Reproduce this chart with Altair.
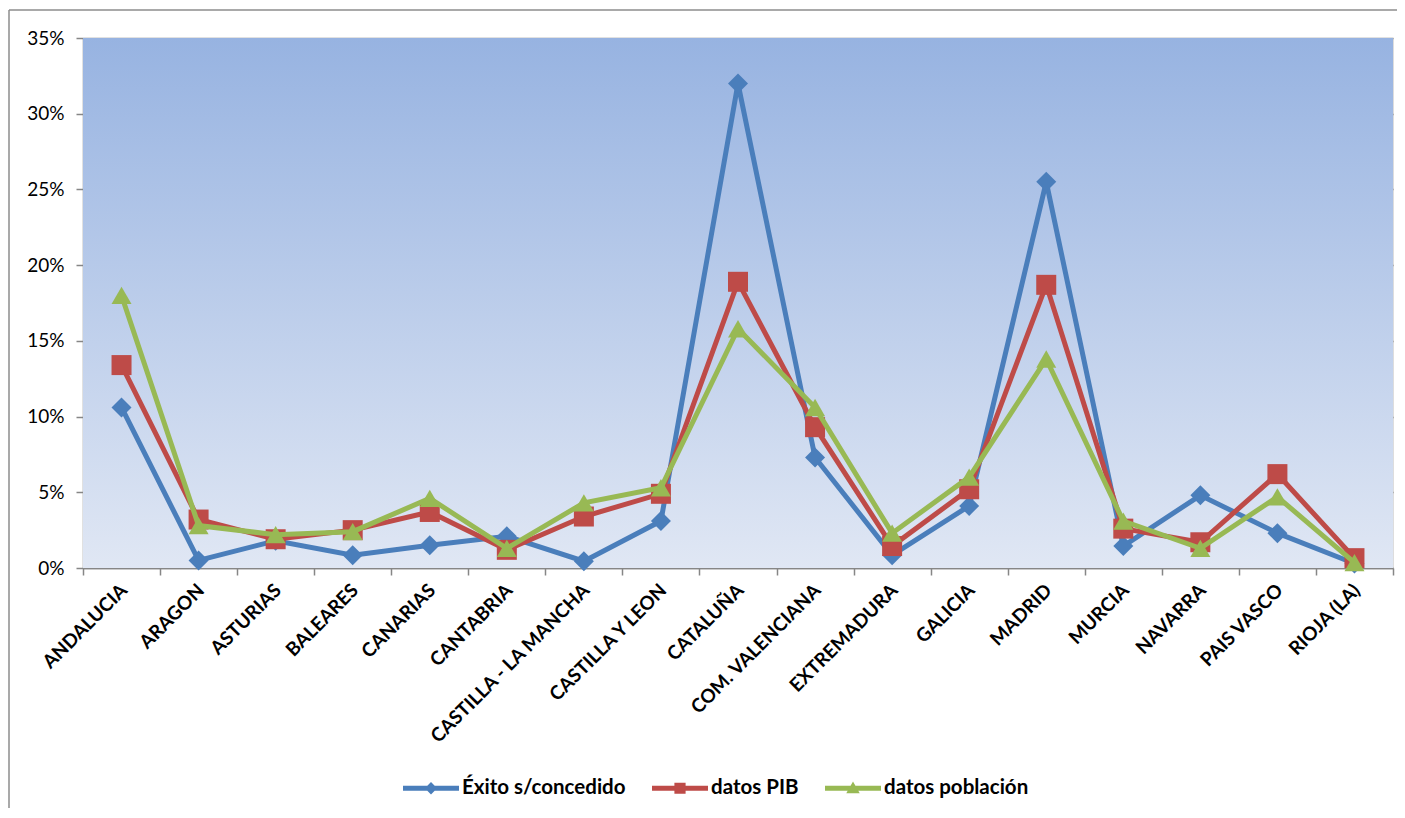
import altair as alt
import pandas as pd

regions = ["ANDALUCIA", "ARAGON", "ASTURIAS", "BALEARES", "CANARIAS", "CANTABRIA",
           "CASTILLA - LA MANCHA", "CASTILLA Y LEON", "CATALUÑA", "COM. VALENCIANA",
           "EXTREMADURA", "GALICIA", "MADRID", "MURCIA", "NAVARRA", "PAIS VASCO", "RIOJA (LA)"]

exito = [10.6, 0.5, 1.8, 0.85, 1.5, 2.1, 0.45, 3.1, 32.0, 7.3, 0.85, 4.1, 25.5, 1.45, 4.8, 2.3, 0.3]
pib = [13.4, 3.2, 1.9, 2.5, 3.7, 1.2, 3.4, 4.9, 18.9, 9.3, 1.45, 5.2, 18.7, 2.6, 1.7, 6.2, 0.65]
poblacion = [18.0, 2.8, 2.2, 2.4, 4.6, 1.3, 4.3, 5.3, 15.8, 10.6, 2.3, 6.0, 13.8, 3.1, 1.3, 4.7, 0.35]

series_names = ["Éxito s/concedido", "datos PIB", "datos población"]
series_values = [exito, pib, poblacion]
series_colors = ["#4a7ebb", "#be4b48", "#98b954"]
series_shapes = ["diamond", "square", "triangle-up"]

legend_paths = [
    "M-1,-0.09L1,-0.09L1,0.09L-1,0.09Z M0,-0.22L0.22,0L0,0.22L-0.22,0Z",
    "M-1,-0.09L1,-0.09L1,0.09L-1,0.09Z M-0.2,-0.2L0.2,-0.2L0.2,0.2L-0.2,0.2Z",
    "M-1,-0.09L1,-0.09L1,0.09L-1,0.09Z M0,-0.24L0.24,0.18L-0.24,0.18Z",
]

W, H = 1310, 530
FONT = "Lato"

rows = []
for name, vals in zip(series_names, series_values):
    for r, v in zip(regions, vals):
        rows.append({"region": r, "value": v / 100.0, "serie": name})
df = pd.DataFrame(rows)

x_enc = alt.X("region:N", sort=regions,
              scale=alt.Scale(type="band", paddingInner=0, paddingOuter=0),
              axis=alt.Axis(title=None, labelAngle=-45, labelAlign="right", labelBaseline="middle",
                            labelFont=FONT, labelFontSize=19, labelFontWeight="bold", labelColor="#000000",
                            labelPadding=12, labelOffset=2, tickBand="extent", ticks=True, tickSize=7,
                            tickColor="#868686", tickWidth=1.5, domainColor="#868686", domainWidth=1.5,
                            grid=False, labelOverlap=False, labelLimit=500))
y_enc = alt.Y("value:Q", scale=alt.Scale(domain=[0, 0.35], nice=False, zero=True),
              axis=alt.Axis(title=None, format=".0%", values=[0, 0.05, 0.1, 0.15, 0.2, 0.25, 0.3, 0.35],
                            labelFont=FONT, labelFontSize=19, labelColor="#000000", labelPadding=12,
                            tickSize=7, tickColor="#868686", tickWidth=1.5, domainColor="#868686",
                            domainWidth=1.5, grid=True, gridColor="#868686", gridWidth=1.5))

bg_data = pd.DataFrame({"k": [0]})
background = alt.Chart(bg_data).mark_rect(
    color=alt.LinearGradient(gradient="linear",
                             stops=[alt.GradientStop(color="#97b3e1", offset=0),
                                    alt.GradientStop(color="#e0e7f4", offset=1)],
                             x1=0, x2=0, y1=0, y2=1)
).encode(x=alt.value(0), x2=alt.value(W), y=alt.value(0), y2=alt.value(H))

frame_top = alt.Chart(bg_data).mark_rule(color="#8c8c8c", strokeWidth=1.5).encode(
    x=alt.value(-74), x2=alt.value(W + 4), y=alt.value(-28))
frame_left = alt.Chart(bg_data).mark_rule(color="#8c8c8c", strokeWidth=1.5).encode(
    x=alt.value(-74), y=alt.value(-28), y2=alt.value(H + 240))

layers = [frame_top, frame_left, background]
for name, color, shape in zip(series_names, series_colors, series_shapes):
    sub = df[df["serie"] == name]
    base = alt.Chart(sub)
    layers.append(base.mark_line(color=color, strokeWidth=5).encode(x=x_enc, y=y_enc))
    layers.append(base.mark_point(color=color, shape=shape, filled=True, opacity=1, size=400).encode(x=x_enc, y=y_enc))

legend_layer = alt.Chart(df).transform_filter("false").mark_point(filled=True, opacity=1).encode(
    x=x_enc, y=y_enc,
    color=alt.Color("serie:N", scale=alt.Scale(domain=series_names, range=series_colors),
                    legend=alt.Legend(title=None, orient="none", direction="horizontal",
                                      legendX=320, legendY=722, symbolSize=3136, symbolStrokeWidth=0,
                                      labelFont=FONT, labelFontSize=20.5, labelFontWeight="bold",
                                      labelColor="#000000", labelOffset=3, columnPadding=26,
                                      labelLimit=400)),
    shape=alt.Shape("serie:N", scale=alt.Scale(domain=series_names, range=legend_paths)),
)
layers.append(legend_layer)

chart = alt.layer(*layers).properties(
    width=W, height=H,
    autosize=alt.AutoSizeParams(type="none"),
    padding={"left": 75, "top": 30, "right": 4, "bottom": 240},
).configure_view(stroke=None).configure(background="white")

chart.save("out.html", embed_options={"renderer": "svg", "actions": False})
